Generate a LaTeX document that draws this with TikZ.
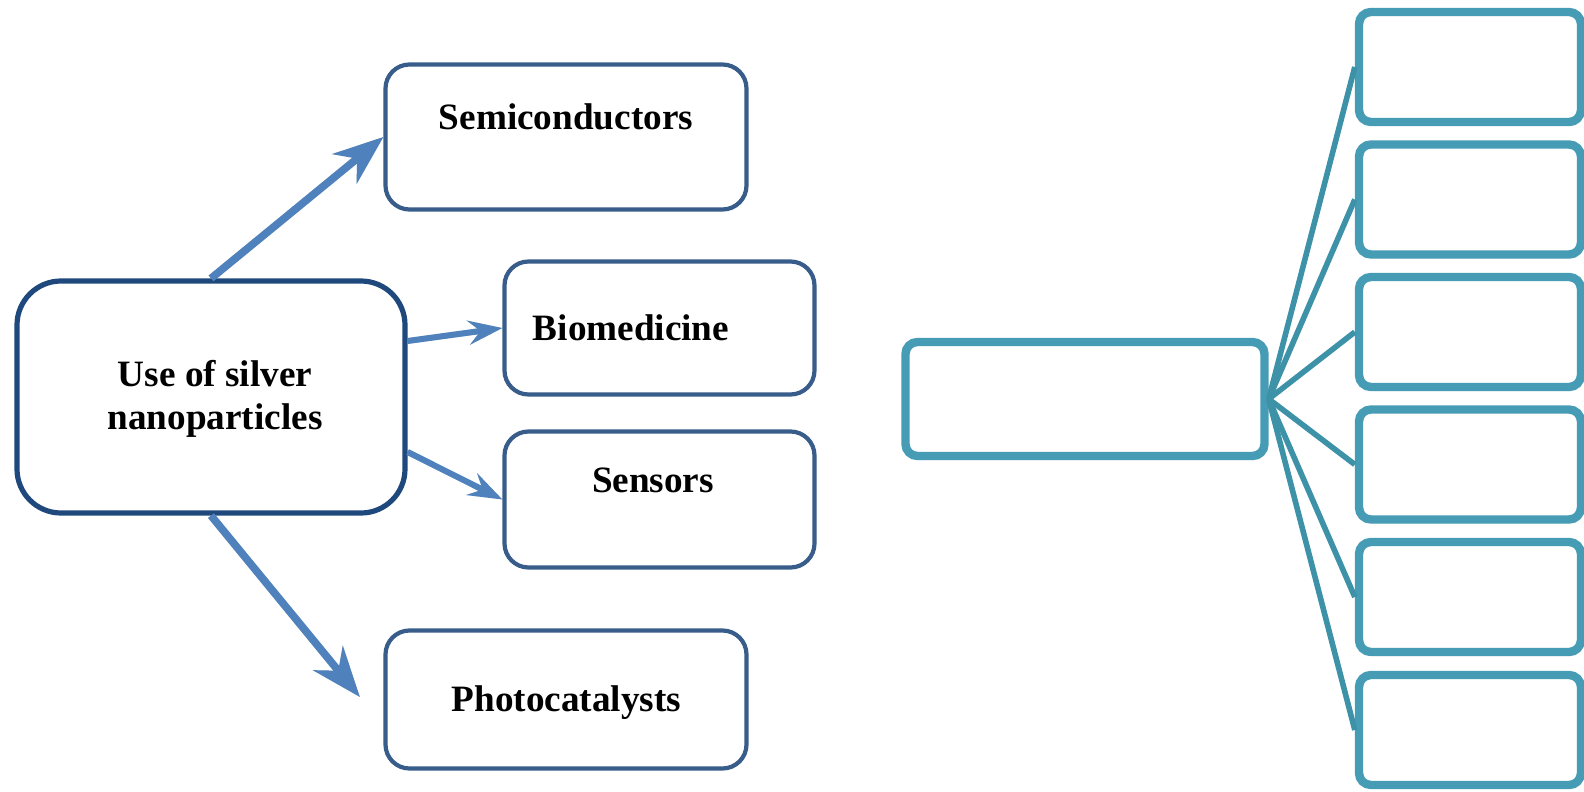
\documentclass[tikz,border=0pt]{standalone}
\usepackage{fontspec}
\setmainfont{Liberation Serif}
\usetikzlibrary{arrows.meta,calc,shadows}
\definecolor{darkb}{RGB}{31,73,125}
\definecolor{medb}{RGB}{56,93,138}
\definecolor{arrb}{RGB}{79,129,189}
\definecolor{tealb}{RGB}{70,156,180}
\definecolor{teall}{RGB}{62,146,168}
\begin{document}
\begin{tikzpicture}[x=0.5pt,y=-0.5pt,
  lbox/.style={draw=medb, line width=2.1pt, rounded corners=12pt, fill=white, inner sep=0pt},
  mainbox/.style={draw=darkb, line width=2.6pt, rounded corners=22pt, fill=white, inner sep=0pt},
  lbl/.style={font=\fontsize{18.6}{21.5}\selectfont\bfseries, inner sep=0pt},
  bigarr/.style={draw=arrb, line width=3.8pt, -{Stealth[length=25pt,width=19pt,inset=8pt]}},
  smallarr/.style={draw=arrb, line width=3pt, -{Stealth[length=17pt,width=12pt,inset=6pt]}},
  arrshadow/.style={draw=black, draw opacity=0.15, fill opacity=0.15, shift={(1.5pt,-2pt)}},
  tbox/.style={draw=tealb, line width=4.2pt, rounded corners=6pt, fill=white, inner sep=0pt,
    drop shadow={shadow xshift=1.2pt, shadow yshift=-2pt, opacity=0.15}},
  tline/.style={draw=teall, line width=2.8pt},
]
\useasboundingbox (0,0) rectangle (1584,792);

% left part
\node[mainbox, minimum width=194pt, minimum height=116pt] (main) at (211,397) {};
\node[lbox, minimum width=180.5pt, minimum height=72.5pt] (semi) at (566,137) {};
\node[lbox, minimum width=155pt, minimum height=66.5pt] (bio) at (659.5,328) {};
\node[lbox, minimum width=155pt, minimum height=68pt] (sens) at (659.5,499.5) {};
\node[lbox, minimum width=180.5pt, minimum height=69pt] (photo) at (566,699.5) {};

\node[lbl, align=center] (maint) at (215,399) {Use of silver\\nanoparticles};
\node[lbl, anchor=base] (semit) at (566,129) {Semiconductors};
\node[lbl, anchor=base] (biot) at (631,340) {Biomedicine};
\node[lbl, anchor=base] (senst) at (653,492) {Sensors};
\node[lbl, anchor=base] (photot) at (566.5,711) {Photocatalysts};

\coordinate (bstart) at ($(main.east)+(0,-56)$);
\coordinate (sstart) at ($(main.east)+(0,55)$);
\coordinate (pend) at ($(photo.west)+(-23.5,-2.5)$);

\draw[bigarr, arrshadow] (main.north) -- (semi.west);
\draw[smallarr, arrshadow] (bstart) -- (bio.west);
\draw[smallarr, arrshadow] (sstart) -- (sens.west);
\draw[bigarr, arrshadow] (main.south) -- (pend);

\draw[bigarr] (main.north) -- (semi.west);
\draw[smallarr] (bstart) -- (bio.west);
\draw[smallarr] (sstart) -- (sens.west);
\draw[bigarr] (main.south) -- (pend);

% right part
\node[tbox, minimum width=179.5pt, minimum height=57pt] (ctr) at (1085,399) {};
\node[tbox, minimum width=111pt, minimum height=55pt] (r1) at (1470,67) {};
\node[tbox, minimum width=111pt, minimum height=55pt] (r2) at (1470,199.5) {};
\node[tbox, minimum width=111pt, minimum height=55pt] (r3) at (1470,332) {};
\node[tbox, minimum width=111pt, minimum height=55pt] (r4) at (1470,464.5) {};
\node[tbox, minimum width=111pt, minimum height=55pt] (r5) at (1470,597) {};
\node[tbox, minimum width=111pt, minimum height=55pt] (r6) at (1470,730) {};

\foreach \r in {r1,r2,r3,r4,r5,r6}
  \draw[tline] (ctr.east) -- (\r.west);
\end{tikzpicture}
\end{document}
